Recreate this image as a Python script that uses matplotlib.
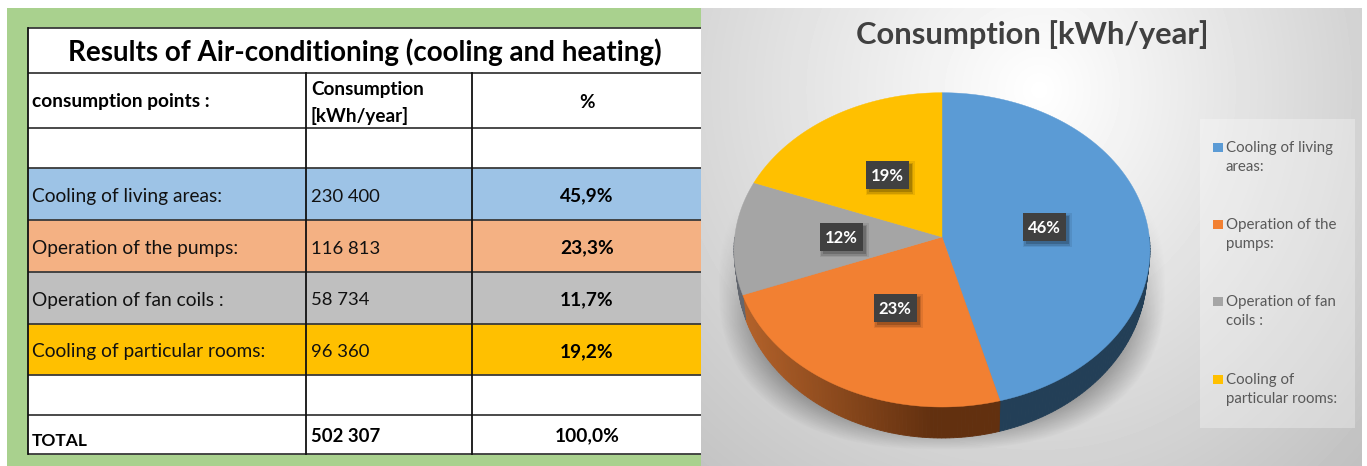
import numpy as np
import matplotlib
matplotlib.use('Agg')
import matplotlib.pyplot as plt
from matplotlib.patches import Rectangle
from matplotlib.colors import to_rgb

plt.rcParams['font.family'] = ['Lato', 'DejaVu Sans']

# table data
row_names = ['Cooling of living areas:', 'Operation of the pumps:', 'Operation of fan coils :', 'Cooling of particular rooms:']
row_kwh = ['230 400', '116 813', '58 734', '96 360']
row_pct = ['45,9%', '23,3%', '11,7%', '19,2%']
row_colors = ['#9dc3e6', '#f4b183', '#bfbfbf', '#ffc000']

# pie data
values = [45.9, 23.3, 11.7, 19.2]
pie_labels = ['46%', '23%', '12%', '19%']
pie_colors = ['#5b9bd5', '#f28032', '#a5a5a5', '#ffc000']
legend_names = ['Cooling of living\nareas:', 'Operation of the\npumps:', 'Operation of fan\ncoils :', 'Cooling of\nparticular rooms:']

W, H = 1367, 466
fig = plt.figure(figsize=(W / 100, H / 100), dpi=100)
ax = fig.add_axes([0, 0, 1, 1])
ax.set_axis_off()


def box(x0, y0, x1, y1, color, z=1, **kw):
    ax.add_patch(Rectangle((x0, y0), x1 - x0, y1 - y0, facecolor=color, edgecolor='none', zorder=z, **kw))


# left side, green sheet with the table
box(7, 8, 701, 466, '#a9d18e')
col_x = [28, 306, 472, 701]
row_y = [28, 73, 128, 168, 220, 272, 323.5, 375, 415, 454]

box(28, 28, 701, 454, 'white', z=2)
for i in range(4):
    box(28, row_y[3 + i], 701, row_y[4 + i], row_colors[i], z=2)

for y in row_y:
    ax.plot([28, 701], [y, y], color='#3a3a3a', lw=1.3, zorder=3, solid_capstyle='butt')
ax.plot([28, 28], [28, 454], color='#111111', lw=1.3, zorder=3)
for x in col_x[1:3]:
    ax.plot([x, x], [73, 454], color='#111111', lw=1.3, zorder=3)

ax.text(365, 52, 'Results of Air-conditioning (cooling and heating)', fontsize=20, fontweight='bold',
        ha='center', va='center', color='black', zorder=4)
ax.text(32, 102, 'consumption points :', fontsize=13.8, fontweight='bold', va='center', zorder=4)
ax.text(311, 89, 'Consumption', fontsize=13.6, fontweight='bold', va='center', zorder=4)
ax.text(311, 116, '[kWh/year]', fontsize=13.6, fontweight='bold', va='center', zorder=4)
ax.text(587, 103, '%', fontsize=13.6, fontweight='bold', ha='center', va='center', zorder=4)

for i in range(4):
    yc = (row_y[3 + i] + row_y[4 + i]) / 2
    ax.text(32, yc + 2.5, row_names[i], fontsize=13.8, va='center', color='#111111', zorder=4)
    ax.text(311, yc + 2.5, row_kwh[i], fontsize=13.3, va='center', color='#111111', zorder=4)
    ax.text(587, yc + 2, row_pct[i], fontsize=13.8, fontweight='bold', ha='center', va='center', zorder=4)

ax.text(32, 441, 'TOTAL', fontsize=12.5, fontweight='bold', va='center', zorder=4)
ax.text(311, 436, '502 307', fontsize=13.3, fontweight='bold', va='center', zorder=4)
ax.text(587, 436, '100,0%', fontsize=13.8, fontweight='bold', ha='center', va='center', zorder=4)

# right side, grey gradient panel
px0, px1, py0, py1 = 701, 1362, 8, 466
gx, gy = np.meshgrid(np.arange(px0, px1) + 0.5, np.arange(py0, py1) + 0.5)
rx = np.where(gx < 1040, 620, 520)
dist = np.sqrt(((gx - 1040) / rx) ** 2 + ((gy - 90) / 600) ** 2)
grey = np.clip(1.0 - 0.28 * dist, 0.74, 1)
ax.imshow(grey, cmap='gray', vmin=0, vmax=1, extent=[px0, px1, py1, py0], zorder=1, aspect='auto')

# soft shadow under the pie
sx, sy = np.meshgrid(np.arange(px0, 1230) + 0.5, np.arange(150, py1) + 0.5)
d = (np.abs((sx - 942) / 224) ** 2.4 + np.abs((sy - 285) / 165) ** 2.4) ** (1 / 2.4)
alpha = np.clip((1.0 - d) / 0.2, 0, 1) * 0.42 * np.clip((sy - 195) / 130, 0, 1)
shadow = np.zeros(d.shape + (4,))
shadow[..., 3] = alpha
ax.imshow(shadow, extent=[px0, 1230, py1, 150], zorder=2, aspect='auto')

# perspective disc: top of the pie, the centre sits above the middle of the ellipse
cx, cy = 942, 237
a, b, k = 207.3, 156.1, 0.0818


def rim(theta_deg):
    t = np.radians(theta_deg)
    u, v = np.sin(t), np.cos(t)
    q = 1 + k * v
    return cx + a * u / q, cy - b * v / q


def under(x, y):
    # the lower rim is a bit narrower, seen from above
    return cx + (x - cx) * 0.985, 272 + (y - 250) * 166 / 157


edges = np.cumsum([0] + values)
edges = edges / edges[-1] * 360


def side_color(i, x):
    if i == 0:
        return '#233f57'
    if i == 1:
        f = np.clip((x - 742) / 190, 0, 1)
        return tuple((1 - f) * np.array(to_rgb('#b4622a')) + f * np.array(to_rgb('#62300f')))
    return '#62666e'


# sides first, the front half only
for i in range(4):
    start, stop = max(edges[i], 90), min(edges[i + 1], 270)
    if stop <= start:
        continue
    steps = np.append(np.arange(start, stop, 1.0), stop)
    for t0, t1 in zip(steps[:-1], steps[1:]):
        x0, y0 = rim(t0)
        x1, y1 = rim(t1)
        bx0, by0 = under(x0, y0)
        bx1, by1 = under(x1, y1)
        c = side_color(i, (x0 + x1) / 2)
        ax.fill([x0, x1, bx1, bx0], [y0, y1, by1, by0], color=c, lw=0.6, zorder=3)

for i in range(4):
    ts = np.linspace(edges[i], edges[i + 1], 120)
    xs, ys = rim(ts)
    ax.fill(np.r_[cx, xs], np.r_[cy, ys], color=pie_colors[i], lw=0.3, zorder=4)

# value labels
label_pos = [(1044, 227), (895, 308), (841, 237), (887, 175)]
for (lx, ly), txt in zip(label_pos, pie_labels):
    for grow, al in [(3, 0.08), (1.5, 0.12), (0, 0.18)]:
        box(lx - 21.5 + 3 - grow, ly - 14 + 3 - grow, lx + 21.5 + 3 + grow, ly + 14 + 3 + grow, 'black', z=5, alpha=al)
    box(lx - 21.5, ly - 14, lx + 21.5, ly + 14, '#404040', z=6)
    ax.text(lx, ly + 1, txt, color='white', fontsize=12, fontweight='bold', ha='center', va='center', zorder=7)

ax.text(1032, 35, 'Consumption [kWh/year]', fontsize=22.2, fontweight='bold', color='#404040',
        ha='center', va='center', zorder=5)

# legend
box(1200, 119, 1355, 428, 'white', z=3, alpha=0.3)
legend_y = [147, 224, 301, 379]
for y, c, name in zip(legend_y, pie_colors, legend_names):
    box(1213, y - 4.5, 1222.5, y + 4.5, c, z=4)
    ax.text(1226, y - 6, name, fontsize=10.8, color='#595959', va='top', linespacing=1.45, zorder=5)

ax.set_xlim(0, W)
ax.set_ylim(H, 0)
fig.savefig('out.png', dpi=100, facecolor='white')
